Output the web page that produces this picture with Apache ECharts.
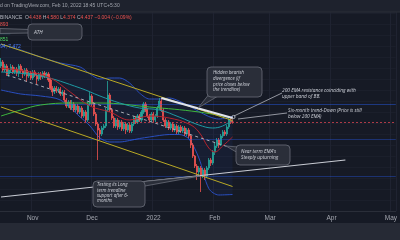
<!DOCTYPE html>
<html><head><meta charset="utf-8">
<script src="https://cdn.jsdelivr.net/npm/echarts/dist/echarts.min.js"></script>
<style>html,body{margin:0;padding:0;background:#161a25;}#c{width:400px;height:240px;}</style>
</head><body><div id="c"></div>
<script>
// ---- daily candles, Oct 16 2021 .. Feb 10 2022 ----
const opens=[6.68,6.84,6.52,6.68,6.36,6.52,6.64,6.44,6.56,6.40,
 6.68,6.48,6.36,6.52,6.28,6.40,6.20,6.44,6.32,6.16,
 6.36,6.24,6.40,6.28,6.36,6.12,5.80,5.64,5.80,5.68,
 5.76,5.56,5.64,5.32,5.08,5.24,5.00,5.16,4.92,5.08,
 4.84,5.00,4.68,4.84,4.52,5.16,5.48,5.16,4.76,4.36,
 4.12,3.96,4.20,4.28,4.92,5.52,4.92,4.60,4.28,4.52,
 4.24,4.44,4.16,4.36,4.12,4.32,4.08,4.36,4.60,4.44,
 4.68,4.52,4.84,5.16,4.92,4.68,4.52,4.76,4.52,4.68,
 5.00,5.28,4.92,4.52,4.28,4.44,4.20,4.36,4.12,4.28,
 4.04,4.24,4.08,4.20,3.96,4.12,3.88,3.52,3.08,2.68,
 2.44,2.60,2.32,2.52,2.28,2.60,2.92,2.80,3.24,3.48,
 3.72,3.52,3.88,4.04,3.96,4.24,4.52,4.438];
const closes=[6.84,6.52,6.68,6.36,6.52,6.64,6.44,6.56,6.40,6.68,
 6.48,6.36,6.52,6.28,6.40,6.20,6.44,6.32,6.16,6.36,
 6.24,6.40,6.28,6.36,6.12,5.80,5.64,5.80,5.68,5.76,
 5.56,5.64,5.32,5.08,5.24,5.00,5.16,4.92,5.08,4.84,
 5.00,4.68,4.84,4.52,5.16,5.48,5.16,4.76,4.36,4.12,
 3.96,4.20,4.28,4.92,5.52,4.92,4.60,4.28,4.52,4.24,
 4.44,4.16,4.36,4.12,4.32,4.08,4.36,4.60,4.44,4.68,
 4.52,4.84,5.16,4.92,4.68,4.52,4.76,4.52,4.68,5.00,
 5.28,4.92,4.52,4.28,4.44,4.20,4.36,4.12,4.28,4.04,
 4.24,4.08,4.20,3.96,4.12,3.88,3.52,3.08,2.68,2.44,
 2.60,2.32,2.52,2.28,2.60,2.92,2.80,3.24,3.48,3.72,
 3.52,3.88,4.04,3.96,4.24,4.52,4.438,4.437];
const highs=[7.00,6.92,6.76,6.76,6.60,6.76,6.72,6.64,6.64,6.76,
 6.76,6.56,6.60,6.60,6.48,6.48,6.52,6.52,6.40,6.44,
 6.44,6.48,6.48,6.44,6.44,6.20,5.88,5.88,5.88,5.84,
 5.84,5.72,5.72,5.40,5.32,5.32,5.32,5.24,5.16,5.16,
 5.08,5.08,4.92,4.92,5.24,5.64,5.56,5.24,4.84,4.44,
 4.20,4.28,4.36,5.00,6.08,5.60,5.00,4.68,4.60,4.60,
 4.52,4.52,4.44,4.44,4.40,4.40,4.44,4.68,4.68,4.76,
 4.76,4.92,5.24,5.24,5.00,4.76,4.84,4.84,4.76,5.08,
 5.40,5.36,5.00,4.60,4.52,4.52,4.44,4.44,4.36,4.36,
 4.32,4.32,4.28,4.28,4.20,4.20,3.96,3.60,3.12,2.76,
 2.68,2.68,2.60,2.60,2.68,3.00,3.00,3.32,3.60,3.80,
 3.80,3.96,4.12,4.12,4.32,4.60,4.64,4.58];
const lows=[6.60,6.44,6.44,6.28,6.24,6.44,6.36,6.36,6.28,6.24,
 6.40,6.20,6.28,6.04,6.20,6.12,6.12,6.24,5.96,6.08,
 6.12,6.16,6.20,6.20,6.04,5.72,5.48,5.56,5.60,5.60,
 5.48,5.48,5.24,5.00,5.00,4.92,4.92,4.84,4.84,4.76,
 4.76,4.60,4.60,4.44,4.44,5.08,5.08,4.68,4.28,2.92,
 3.72,3.88,4.12,4.20,4.84,4.84,4.52,4.20,4.20,4.12,
 4.16,4.08,4.08,3.96,4.04,4.00,4.00,4.28,4.36,4.36,
 4.44,4.44,4.76,4.84,4.60,4.44,4.44,4.44,4.44,4.60,
 4.92,4.84,4.44,4.20,4.20,4.12,4.12,4.04,4.04,3.96,
 3.96,4.00,4.00,3.88,3.88,3.80,3.40,3.00,2.60,2.12,
 2.28,1.64,2.20,2.12,2.20,2.52,2.68,2.72,3.12,3.40,
 3.40,3.48,3.80,3.88,3.88,4.16,4.36,4.374];

// ---- indicators (candle index, value) ----
const bbIdx=[0,10,20,30,40,45,50,55,60,65,70,75,80,85,90,95,100,105,110,117];
const bbUpper=[7.56,7.32,7.04,6.80,6.64,6.36,6.16,6.20,6.20,6.00,5.60,5.36,5.36,5.40,5.28,5.08,4.86,4.66,4.56,4.66];
const bbLower=[5.72,5.56,5.48,5.32,4.64,4.28,3.80,3.64,3.64,3.70,3.78,3.84,3.90,3.94,3.94,3.76,3.00,1.78,1.52,1.54];
const tealIdx=[0,20,40,50,60,70,80,90,100,107,112,117];
const tealEma=[6.44,6.28,5.80,5.48,5.20,5.00,4.92,4.64,4.32,4.20,4.28,4.52];
const redIdx=[0,15,25,35,45,55,65,75,85,95,100,105,108,112,117];
const redEma=[6.60,6.44,6.20,5.64,5.08,4.84,4.52,4.68,4.60,4.36,4.04,3.40,3.24,3.48,3.84];
const greenIdx=[0,10,20,35,50,75,100,117];
const greenEma=[4.68,4.92,5.12,5.20,5.20,5.04,4.84,4.60];
// trendlines [startIndex, startValue, endIndex, endValue]
const channelTop=[0,7.56,117,4.50];
const channelBottom=[0,5.04,117,1.86];
const channelMid=[3,6.32,115,3.44];
const resistance=[81,5.40,117,4.60];
const support=[0,1.44,174,2.92];
const levels=[5.16,3.76,2.28];
const lastPrice=4.437;

const monthNames=['2022','Feb','Mar','Apr','May','Jun','Jul','Aug','Sep','Oct','Nov','Dec'];
const dates=[];
{const d=new Date(Date.UTC(2021,9,16));for(let i=0;i<200;i++){dates.push(d.toISOString().slice(0,10));d.setUTCDate(d.getUTCDate()+1);}}
const isMonthStart=(i,v)=>v.slice(8,10)==='01';

const pairs=(idx,vals)=>idx.map((x,k)=>[x,vals[k]]);
const seg=a=>[[a[0],a[1]],[a[2],a[3]]];
const candles=opens.map((o,i)=>[o,closes[i],lows[i],highs[i]]);
const bandDiff=bbIdx.map((x,k)=>[x,+(bbUpper[k]-bbLower[k]).toFixed(3)]);

const lineS=(data,color,extra)=>Object.assign({type:'line',data,symbol:'none',silent:true,
  lineStyle:{color,width:1},z:5},extra||{});

const FONT='"Liberation Sans", Arial, sans-serif';
const IT={fontStyle:'italic',fontFamily:'"Open Sans", "Liberation Sans", sans-serif',fill:'#d1d4dc',verticalAlign:'top'};
const box=(x,y,w,h)=>({type:'rect',z:100,shape:{x,y,width:w,height:h,r:4},style:{fill:'#2a2e39',stroke:'#6a6d78',lineWidth:0.8}});
const tail=pts=>({type:'polygon',z:99,shape:{points:pts},style:{fill:'#2a2e39',stroke:'#6a6d78',lineWidth:0.8}});
const txt=(x,y,text,size,lh)=>({type:'text',z:101,x,y,style:Object.assign({text,fontSize:size,lineHeight:lh},IT)});

const chart=echarts.init(document.getElementById('c'),null,{renderer:'canvas'});
chart.setOption({
  animation:false,
  backgroundColor:'#161a25',
  grid:{left:0,right:0,top:12,bottom:29},
  xAxis:{type:'category',data:dates,boundaryGap:true,
    axisLine:{show:true,lineStyle:{color:'#2a2e39'}},axisTick:{show:false},
    axisLabel:{interval:isMonthStart,hideOverlap:false,color:'#a3a6af',fontSize:6.5,margin:3.5,fontFamily:FONT,
      formatter:v=>{const m=+v.slice(5,7);return m===1?v.slice(0,4):monthNames[m-1];}},
    splitLine:{show:true,interval:isMonthStart,lineStyle:{color:'#1f2331',width:1}}},
  yAxis:{type:'value',min:0.88,max:8.84,interval:0.44,axisLabel:{show:false},axisLine:{show:false},axisTick:{show:false},
    splitLine:{show:true,lineStyle:{color:'#1b1f2b',width:1}}},
  series:[
    lineS(pairs(bbIdx,bbLower),'#2a4fc0',{smooth:0.3,stack:'bb',z:2}),
    lineS(bandDiff,'#2a4fc0',{smooth:0.3,stack:'bb',z:2,areaStyle:{color:'rgba(41,98,255,0.09)'}}),
    lineS(pairs(greenIdx,greenEma),'#3fb83f',{smooth:0.4}),
    {type:'candlestick',data:candles,barWidth:1.6,z:3,silent:true,
      itemStyle:{color:'#26a69a',color0:'#ef5350',borderColor:'#26a69a',borderColor0:'#ef5350',borderWidth:0.8},
      markLine:{silent:true,symbol:['none','none'],label:{show:false},
        data:[
          {yAxis:levels[0],lineStyle:{color:'rgba(41,98,255,0.42)',width:1,type:'solid'}},
          {yAxis:levels[1],lineStyle:{color:'rgba(41,98,255,0.35)',width:1,type:'solid'}},
          {yAxis:levels[2],lineStyle:{color:'rgba(41,98,255,0.35)',width:1,type:'solid'}},
          {yAxis:lastPrice,lineStyle:{color:'#d3424f',width:0.8,type:[2,2]}}
        ]}},
    lineS(pairs(tealIdx,tealEma),'#1f9aa3',{smooth:0.4}),
    lineS(pairs(redIdx,redEma),'#b3232d',{smooth:0.4}),
    lineS(seg(channelTop),'#b9a925'),
    lineS(seg(channelBottom),'#b9a925'),
    lineS(seg(channelMid),'#a9acb5',{lineStyle:{color:'#a9acb5',width:1,type:[3,3]}}),
    lineS(seg(resistance),'#e0e3eb',{lineStyle:{color:'#e0e3eb',width:2}}),
    lineS(seg(support),'#c9ccd4',{lineStyle:{color:'#c9ccd4',width:1.2}})
  ],
  graphic:[
    {type:'rect',z:90,shape:{x:0,y:0,width:400,height:12},style:{fill:'#1e222d'}},
    {type:'line',z:90,shape:{x1:0,y1:12,x2:400,y2:12},style:{stroke:'#2a2e39',lineWidth:1}},
    {type:'rect',z:90,shape:{x:0,y:223,width:400,height:17},style:{fill:'#262a35'}},
    {type:'text',z:91,x:0,y:3.5,style:{text:'d on TradingView.com, Feb 10, 2022 18:45 UTC+5:30',fill:'#a3a6af',fontSize:5,fontFamily:FONT,verticalAlign:'top'}},
    {type:'text',z:91,x:0,y:15,style:{text:'{g|BINANCE}  {g|O}{r|4.438} {g|H}{r|4.580} {g|L}{r|4.374} {g|C}{r|4.437} {r|\u22120.004 (\u22120.09%)}',
      verticalAlign:'top',fontSize:5,fontFamily:FONT,rich:{g:{fill:'#b2b5be',fontSize:5,fontFamily:FONT},r:{fill:'#ef5350',fontSize:5,fontFamily:FONT}}}},
    {type:'text',z:91,x:0,y:22.5,style:{text:'893',fill:'#ef5350',fontSize:5,fontFamily:FONT,verticalAlign:'top'}},
    {type:'text',z:91,x:0,y:29.5,style:{text:'541',fill:'#7fe3ea',fontSize:5,fontFamily:FONT,verticalAlign:'top',backgroundColor:'#1c3a4a',padding:[0,1]}},
    {type:'text',z:91,x:0,y:37,style:{text:'851',fill:'#4cd964',fontSize:5,fontFamily:FONT,verticalAlign:'top'}},
    {type:'text',z:91,x:0,y:44.5,style:{text:'94, 7.472',fill:'#4a7dff',fontSize:5,fontFamily:FONT,verticalAlign:'top'}},
    tail([[0,28.5],[30,29.5],[30,33],[0,33.5]]),
    box(28,24,54,16),
    txt(34,29.5,'ATH',5,6),
    tail([[210,93],[218,96],[198,108]]),
    box(207,67,55,30),
    txt(213,70,'Hidden bearish\ndivergence (if\nprice closes below\nthe trendline)',4.6,5.7),
    {type:'line',z:100,shape:{x1:282,y1:93,x2:234,y2:116},style:{stroke:'#c9ccd4',lineWidth:0.7}},
    txt(282,87.5,'200 EMA resistance coinciding with\nupper band of BB.',4.8,6),
    {type:'line',z:100,shape:{x1:287,y1:113,x2:238,y2:119},style:{stroke:'#c9ccd4',lineWidth:0.7}},
    txt(288,107.5,'Six-month trend-Down (Price is still\nbelow 200 EMA)',4.8,6),
    tail([[238,147],[238,153],[226,146]]),
    box(236,145,54,20),
    txt(241,148.5,"Near term EMA's\nSteeply upturning",4.8,6),
    tail([[138,182],[145,186],[200,176]]),
    box(93,181,52,26),
    txt(97,182.5,'Testing its Long\nterm trendline\nsupport after 6-\nmonths',4.5,5.2),
    {type:'circle',z:100,shape:{cx:233.5,cy:117,r:1.6},style:{fill:'none',stroke:'#e0e3eb',lineWidth:0.7}}
  ]
});
</script></body></html>
